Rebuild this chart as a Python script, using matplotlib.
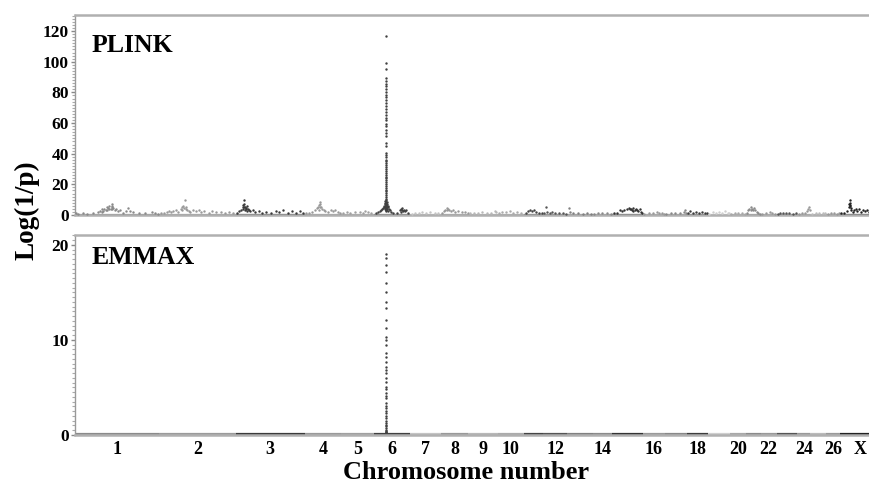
import numpy as np
import matplotlib
matplotlib.use("Agg")
import matplotlib.pyplot as plt
from matplotlib.ticker import MultipleLocator

# chromosome sizes (Mb)
CHROMS = [str(i) for i in range(1, 27)] + ["X"]
CHROM_MB = [275.6, 249.0, 224.3, 119.3, 107.9, 117.0, 100.1, 90.7, 94.7, 86.5,
            62.3, 79.1, 83.1, 62.7, 100.0, 71.7, 72.3, 68.6, 72.0, 51.2,
            50.1, 50.8, 68.0, 42.0, 52.0, 44.1, 135.4]
CHROM_SHADE = ["#8a8a8a", "#9a9a9a", "#3a3a3a", "#999999", "#a0a0a0", "#404040", "#c4c4c4",
               "#999999", "#b8b8b8", "#ababab", "#444444", "#555555", "#808080", "#8a8a8a",
               "#333333", "#999999", "#888888", "#3c3c3c", "#cfcfcf", "#a8a8a8", "#8a8a8a",
               "#999999", "#555555", "#999999", "#bbbbbb", "#999999", "#222222"]
TICK_CHROMS = ["1", "2", "3", "4", "5", "6", "7", "8", "9", "10", "12", "14",
               "16", "18", "20", "22", "24", "26", "X"]

# PLINK hits: (position Mb, -log10 p) per chromosome
plink_chr1 = [(3, 1.0), (10, 0.8), (25, 1.2), (40, 0.9), (60, 1.5), (75, 2.0), (82, 2.8), (88, 3.6),
              (88, 2.0), (92, 2.4), (96, 4.2), (100, 3.2), (104, 5.0), (104, 3.0), (108, 4.4),
              (112, 5.6), (112, 3.8), (116, 4.0), (120, 6.9), (120, 4.9), (122, 5.8), (122, 3.6),
              (125, 4.6), (130, 3.5), (135, 4.2), (140, 2.8), (147, 3.0), (155, 1.6), (165, 2.4),
              (173, 4.5), (178, 2.5), (190, 1.8), (210, 1.2), (230, 1.0), (250, 2.0), (262, 1.5), (270, 0.8)]
plink_chr2 = [(5, 1.0), (15, 1.5), (24, 2.2), (30, 2.8), (38, 1.8), (45, 2.5), (55, 3.0), (62, 2.0),
              (70, 4.0), (75, 5.2), (75, 3.4), (78, 6.0), (81, 4.5), (83, 9.5), (86, 5.5), (86, 3.8),
              (90, 3.5), (95, 2.8), (100, 2.0), (110, 3.0), (120, 2.5), (128, 3.2), (135, 1.8),
              (145, 2.4), (160, 1.5), (172, 2.6), (185, 1.9), (200, 2.2), (215, 1.4), (228, 2.0), (240, 1.2)]
plink_chr3 = [(5, 1.5), (12, 2.5), (18, 3.5), (22, 5.0), (24, 6.5), (24, 4.0), (26, 9.8), (27, 5.2),
              (28, 7.0), (29, 3.2), (30, 5.5), (32, 4.5), (34, 3.8), (36, 6.0), (36, 2.8), (40, 4.0),
              (44, 3.0), (48, 2.5), (55, 3.5), (62, 2.0), (75, 2.8), (85, 1.5), (100, 2.2), (115, 1.5),
              (130, 2.5), (140, 1.8), (155, 3.0), (170, 1.2), (185, 2.4), (195, 1.6), (210, 2.8), (220, 1.5)]
plink_chr4 = [(5, 1.0), (15, 1.5), (25, 2.0), (35, 3.5), (40, 4.5), (44, 5.5), (47, 6.5), (47, 3.5),
              (50, 8.3), (50, 5.2), (52, 7.0), (55, 5.0), (58, 4.0), (62, 3.0), (68, 2.5), (75, 2.0),
              (85, 3.2), (92, 2.5), (100, 3.5), (108, 2.0), (115, 1.5)]
plink_chr5 = [(5, 1.2), (18, 2.0), (30, 1.5), (45, 1.8), (62, 2.2), (70, 1.5), (78, 2.5), (88, 1.8), (98, 1.2)]
plink_chr6 = [(5, 1.0), (12, 2.0), (18, 2.5), (22, 3.0), (26, 3.8), (29, 4.5), (31, 5.5), (33, 6.0),
              (34, 4.2), (35, 7.0), (36, 8.0), (36, 5.0), (37, 9.0), (37.5, 6.5), (37.2, 3.5),
              (38.6, 117.0), (38.5, 99.0), (38.7, 95.0), (38.4, 89.5), (38.6, 87.5), (38.5, 85.8),
              (38.7, 84.0), (38.4, 82.3), (38.6, 80.2), (38.5, 78.6), (38.7, 76.9), (38.4, 75.0),
              (38.6, 73.1), (38.5, 71.0), (38.7, 69.2), (38.4, 67.5), (38.6, 65.3), (38.5, 63.6),
              (38.7, 61.8), (38.4, 59.7), (38.6, 57.9), (38.5, 55.6), (38.7, 53.8), (38.4, 51.5),
              (38.6, 47.0), (38.5, 44.8), (38.7, 40.5), (38.4, 39.0), (38.6, 37.6), (38.5, 36.2),
              (38.8, 35.0), (38.3, 33.7), (38.6, 32.5), (38.5, 31.2), (38.7, 30.0), (38.4, 28.8),
              (38.6, 27.5), (38.9, 26.4), (38.3, 25.1), (38.6, 24.0), (38.5, 22.7), (38.8, 21.5),
              (38.4, 20.3), (38.6, 19.0), (38.2, 17.8), (39.0, 16.6), (38.5, 15.4), (38.7, 14.1),
              (38.1, 13.0), (39.1, 11.8), (38.4, 10.6), (38.8, 9.5), (37.9, 8.4), (39.3, 7.6),
              (38.3, 6.8), (39.6, 5.9), (37.6, 5.2), (40.0, 4.6), (39.8, 3.2), (38.9, 2.5),
              (41, 8.5), (41, 5.5), (42, 7.0), (43, 3.6), (44, 6.0), (46, 5.0), (46, 2.8), (48, 4.0),
              (52, 3.0), (56, 2.2), (62, 1.5), (75, 1.2), (84, 3.0), (86, 2.2), (88, 4.0), (90, 3.2),
              (92, 4.5), (94, 2.6), (96, 3.5), (100, 2.5), (105, 3.0), (110, 1.5)]
plink_chr7 = [(5, 0.8), (15, 1.5), (28, 1.2), (40, 2.0), (52, 1.4), (65, 1.8), (80, 1.0), (92, 1.5)]
plink_chr8 = [(5, 1.5), (10, 2.5), (15, 3.5), (20, 4.8), (20, 3.0), (24, 4.0), (28, 3.0), (33, 2.5),
              (40, 3.2), (48, 2.0), (58, 2.8), (68, 1.8), (80, 2.2), (88, 1.0)]
plink_chr9 = [(5, 1.0), (18, 1.5), (32, 1.2), (45, 1.8), (60, 1.3), (72, 1.6), (85, 2.8), (90, 2.2)]
plink_chr10 = [(5, 1.5), (15, 2.2), (28, 1.8), (40, 2.5), (52, 1.6), (65, 2.0), (78, 1.4)]
plink_chr11 = [(5, 1.0), (14, 2.5), (20, 3.2), (26, 2.8), (32, 3.5), (40, 2.0), (50, 1.5), (58, 1.0)]
plink_chr12 = [(4, 1.5), (10, 5.0), (14, 2.0), (22, 1.5), (30, 1.8), (40, 1.2), (52, 1.0), (65, 1.4), (75, 0.8)]
plink_chr13 = [(5, 4.5), (8, 2.0), (20, 1.0), (35, 1.3), (50, 0.9), (65, 1.2), (78, 0.8)]
plink_chr14 = [(5, 0.8), (18, 1.2), (30, 1.0), (45, 1.5), (58, 0.9)]
plink_chr15 = [(5, 1.0), (15, 1.5), (26, 3.5), (32, 2.5), (40, 3.0), (48, 4.0), (54, 4.5), (58, 3.8),
               (62, 4.2), (66, 3.5), (70, 4.6), (70, 2.6), (74, 3.2), (78, 4.0), (82, 3.0), (86, 2.5),
               (90, 3.8), (95, 2.0), (98, 1.5)]
plink_chr16 = [(5, 0.8), (20, 1.2), (35, 1.0), (48, 2.0), (52, 1.5), (62, 1.0), (70, 0.8)]
plink_chr17 = [(5, 0.8), (20, 1.2), (35, 1.0), (50, 1.5), (62, 2.0), (66, 3.2), (70, 1.5)]
plink_chr18 = [(5, 1.2), (12, 2.5), (20, 1.5), (30, 1.8), (40, 1.2), (50, 2.0), (60, 1.5), (66, 1.0)]
plink_chr19 = [(5, 0.8), (16, 2.0), (25, 1.5), (35, 2.2), (45, 1.6), (55, 2.4), (65, 1.5), (70, 1.0)]
plink_chr20 = [(5, 0.8), (15, 1.2), (28, 1.0), (40, 1.5), (48, 0.9)]
plink_chr21 = [(3, 1.5), (8, 3.0), (12, 4.0), (16, 5.0), (16, 3.2), (20, 4.2), (24, 3.5), (28, 4.8),
               (32, 3.0), (36, 2.0), (42, 1.2), (48, 0.8)]
plink_chr22 = [(5, 0.8), (18, 1.2), (30, 2.2), (35, 1.5), (45, 0.9)]
plink_chr23 = [(5, 0.8), (12, 1.2), (20, 1.5), (30, 1.0), (42, 1.3), (55, 0.8), (64, 1.0)]
plink_chr24 = [(5, 0.8), (15, 1.0), (25, 1.2), (32, 2.5), (35, 4.0), (38, 5.0), (40, 3.5)]
plink_chr25 = [(5, 0.8), (18, 1.0), (30, 1.2), (42, 1.5), (48, 1.0)]
plink_chr26 = [(5, 0.8), (15, 1.0), (25, 1.2), (35, 0.9), (42, 1.0)]
plink_chrX = [(5, 1.0), (15, 1.5), (25, 2.5), (30, 5.0), (32, 7.0), (33, 9.5), (33, 6.2), (34, 8.0),
              (35, 6.0), (36, 4.5), (38, 3.0), (42, 2.0), (48, 3.5), (52, 4.0), (56, 2.5), (62, 3.8),
              (68, 2.2), (75, 3.5), (82, 2.8), (90, 3.2), (95, 2.0)]
PLINK = [plink_chr1, plink_chr2, plink_chr3, plink_chr4, plink_chr5, plink_chr6, plink_chr7,
         plink_chr8, plink_chr9, plink_chr10, plink_chr11, plink_chr12, plink_chr13, plink_chr14,
         plink_chr15, plink_chr16, plink_chr17, plink_chr18, plink_chr19, plink_chr20, plink_chr21,
         plink_chr22, plink_chr23, plink_chr24, plink_chr25, plink_chr26, plink_chrX]

# EMMAX: only chr6 rises off the baseline
emmax_chr6 = [(38.6, 19.1), (38.5, 18.6), (38.6, 17.9), (38.7, 17.2), (38.5, 16.0), (38.6, 15.1),
              (38.5, 14.0), (38.7, 13.4), (38.5, 12.1), (38.6, 11.3), (38.4, 10.3), (38.7, 10.0),
              (38.5, 9.5), (38.6, 8.6), (38.4, 8.2), (38.7, 7.7), (38.5, 7.2), (38.8, 6.8),
              (38.4, 6.5), (38.6, 6.0), (38.5, 5.6), (38.7, 5.1), (38.3, 4.8), (38.6, 4.4),
              (38.8, 4.1), (38.4, 3.9), (38.6, 3.4), (38.9, 3.1), (38.3, 2.8), (38.6, 2.5),
              (38.5, 2.3), (38.8, 2.0), (38.2, 1.8), (38.6, 1.5), (39.0, 1.3), (38.4, 1.1),
              (38.7, 0.9), (38.1, 0.7), (38.9, 0.5), (38.5, 0.4), (37.8, 0.3), (39.3, 0.3)]

offsets = np.concatenate([[0], np.cumsum(CHROM_MB)[:-1]])
centers = offsets + np.array(CHROM_MB) / 2
XMAX = 2594.0

plt.rcParams["font.family"] = "Liberation Serif"
plt.rcParams["font.weight"] = "bold"

fig = plt.figure(figsize=(8.7, 4.84), dpi=100)
ax1 = fig.add_axes([75 / 870, 1 - 215 / 484, 795 / 870, 200 / 484])
ax2 = fig.add_axes([75 / 870, 1 - 435 / 484, 795 / 870, 200 / 484])

for ax, base_y in [(ax1, 0.3), (ax2, 0.06)]:
    # dense non-significant SNPs form a strip along the baseline
    ax.hlines([base_y] * len(CHROMS), offsets, offsets + np.array(CHROM_MB),
              colors=CHROM_SHADE, lw=1.6, zorder=2)

for i, hits in enumerate(PLINK):
    pos = np.array([h[0] for h in hits]) + offsets[i]
    val = [h[1] for h in hits]
    ax1.scatter(pos, val, s=3, color=CHROM_SHADE[i], linewidths=0, zorder=3)

i6 = CHROMS.index("6")
ax2.scatter(np.array([h[0] for h in emmax_chr6]) + offsets[i6], [h[1] for h in emmax_chr6],
            s=3, color=CHROM_SHADE[i6], linewidths=0, zorder=3)

ax1.set_ylim(0, 130.5)
ax1.yaxis.set_major_locator(MultipleLocator(20))
ax1.yaxis.set_minor_locator(MultipleLocator(2))
ax2.set_ylim(0, 21.05)
ax2.yaxis.set_major_locator(MultipleLocator(10))
ax2.yaxis.set_minor_locator(MultipleLocator(0.5))

tick_pos = [centers[CHROMS.index(c)] for c in TICK_CHROMS]
for ax in (ax1, ax2):
    ax.set_xlim(0, XMAX)
    ax.set_xticks(tick_pos)
    ax.tick_params(axis="x", length=0, pad=4, labelsize=13)
    ax.tick_params(axis="y", which="major", length=3, width=1, color="#888888", pad=1.5, labelsize=12.5)
    ax.tick_params(axis="y", which="minor", length=2, width=0.8, color="#aaaaaa")
    for side in ("top", "bottom"):
        ax.spines[side].set_color("#b0b0b0")
        ax.spines[side].set_linewidth(1.8)
    ax.spines["left"].set_color("#999999")
    ax.spines["left"].set_linewidth(1.0)
    ax.spines["right"].set_visible(False)
    for lab in ax.get_yticklabels():
        lab.set_fontweight("bold")
ax1.set_xticklabels([])
ax2.set_xticklabels(TICK_CHROMS, fontweight="bold")

ax1.text(0.021, 0.85, "PLINK", transform=ax1.transAxes, fontsize=18.5, fontweight="bold", va="center")
ax2.text(0.021, 0.89, "EMMAX", transform=ax2.transAxes, fontsize=18.5, fontweight="bold", va="center")

fig.text(27 / 870, 1 - 210 / 484, "Log(1/p)", rotation=90, fontsize=19.5, fontweight="bold",
         ha="center", va="center")
fig.text(466 / 870, 1 - 479 / 484, "Chromosome number", fontsize=19, fontweight="bold",
         ha="center", va="baseline")

fig.savefig("out.png", dpi=100)
